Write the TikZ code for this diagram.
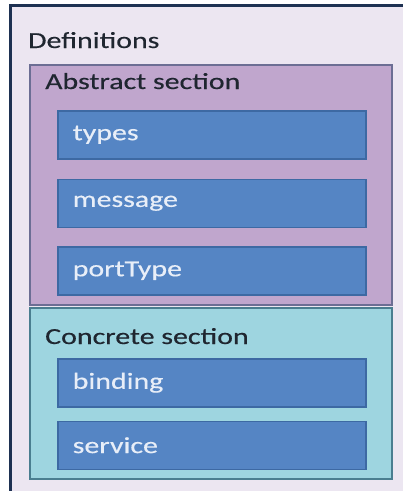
\documentclass[tikz,border=0pt]{standalone}
\usepackage{fontspec}
\setmainfont{Carlito}[FakeStretch=1.3, FakeBold=0.4]
\usepackage{tikz}
\usetikzlibrary{positioning}

\definecolor{defsbg}{HTML}{ECE6F1}
\definecolor{defsline}{HTML}{1E3152}
\definecolor{absfill}{HTML}{C0A6CD}
\definecolor{absline}{HTML}{6C6E94}
\definecolor{confill}{HTML}{9ED5E0}
\definecolor{conline}{HTML}{4A7E90}
\definecolor{partfill}{HTML}{5585C4}
\definecolor{partline}{HTML}{3D69A3}
\definecolor{parttext}{HTML}{E8EEF8}
\definecolor{headtext}{HTML}{1F2630}

\begin{document}
\begin{tikzpicture}[
      x=1pt, y=-1pt,
      node distance=19pt,
      head/.style={anchor=base west, inner sep=0pt, text=headtext, font=\fontsize{23}{27}\selectfont},
      part/.style={draw=partline, fill=partfill, line width=1.5pt, minimum width=308pt, minimum height=48pt,
        text width=278pt, align=left, inner xsep=15pt, inner ysep=0pt, text=parttext,
        font=\fontsize{23}{27}\selectfont}
    ]
    \useasboundingbox (0,0) rectangle (403,491);
    \fill[white] (0,0) rectangle (403,491);

    % definitions frame
    \fill[defsbg] (10,5) rectangle (410,500);
    \draw[defsline, line width=3pt] (10,500) -- (10,5) -- (410,5);
    \node[head] (defs) at (28,48) {Definitions};

    % abstract section
    \draw[absline, fill=absfill, line width=2pt] (30,65) rectangle (392,305);
    \node[head] (abs) at (45,89) {Abstract section};
    \node[part, anchor=north west] (types) at (57,110) {types};
    \node[part, below=of types] (message) {message};
    \node[part, below=18pt of message] (porttype) {portType};

    % concrete section
    \draw[conline, fill=confill, line width=2pt] (30,308) rectangle (392,479);
    \node[head] (con) at (45,344) {Concrete section};
    \node[part, anchor=north west] (binding) at (57,358) {binding};
    \node[part, below=13pt of binding] (service) {service};
  \end{tikzpicture}
\end{document}
